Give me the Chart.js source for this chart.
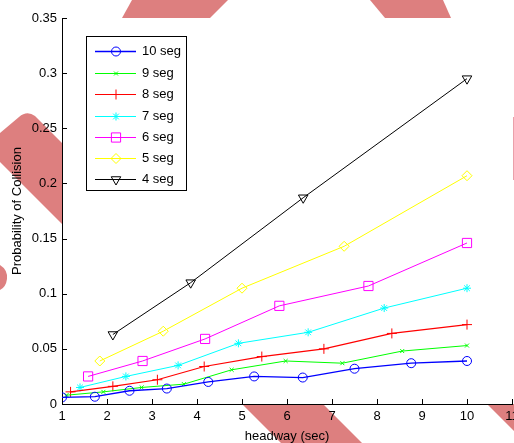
<!DOCTYPE html>
<html>
<head>
<meta charset="utf-8">
<script src="https://cdn.jsdelivr.net/npm/chart.js@4.4.1/dist/chart.umd.min.js"></script>
<style>
  html, body { margin: 0; padding: 0; background: #fff; overflow: hidden; }
  #wrap { width: 514px; height: 443px; overflow: hidden; position: relative; }
  canvas { display: block; }
</style>
</head>
<body>
<div id="wrap"><canvas id="c" width="560" height="470"></canvas></div>
<script>
// ---- data ----
const seriesLabels = ['10 seg', '9 seg', '8 seg', '7 seg', '6 seg', '5 seg', '4 seg'];

const seg10X = [1, 1.73, 2.5, 3.33, 4.25, 5.27, 6.35, 7.5, 8.76, 10];
const seg10Y = [0.006, 0.0066, 0.012, 0.014, 0.020, 0.025, 0.024, 0.032, 0.037, 0.039];

const seg9X = [1.1, 1.92, 2.77, 3.71, 4.77, 5.97, 7.23, 8.56, 10];
const seg9Y = [0.008, 0.011, 0.015, 0.018, 0.031, 0.039, 0.037, 0.048, 0.053];

const seg8X = [1.19, 2.13, 3.12, 4.16, 5.44, 6.82, 8.33, 10];
const seg8Y = [0.011, 0.016, 0.022, 0.034, 0.043, 0.050, 0.064, 0.072];

const seg7X = [1.4, 2.42, 3.58, 4.92, 6.47, 8.16, 10];
const seg7Y = [0.015, 0.025, 0.035, 0.055, 0.065, 0.087, 0.105];

const seg6X = [1.58, 2.79, 4.18, 5.83, 7.81, 10];
const seg6Y = [0.025, 0.039, 0.059, 0.089, 0.107, 0.146];

const seg5X = [1.84, 3.25, 5.0, 7.27, 10];
const seg5Y = [0.039, 0.066, 0.105, 0.143, 0.207];

const seg4X = [2.13, 3.86, 6.36, 10];
const seg4Y = [0.063, 0.110, 0.187, 0.295];

const xTickLabels = ['1', '2', '3', '4', '5', '6', '7', '8', '9', '10', '11'];
const yTickLabels = ['0', '0.05', '0.1', '0.15', '0.2', '0.25', '0.3', '0.35'];
const xTickMin = 1, xTickMax = 11, xTickStep = 1;
const yTickMin = 0, yTickMax = 0.35, yTickStep = 0.05;

const xTitle = 'headway (sec)';
const yTitle = 'Probability of Collision';

// ---- styling ----
const FONT = '"Liberation Sans", Arial, Helvetica, sans-serif';
const styles = [
  { color: '#0000ff', pointStyle: 'circle',   radius: 4.5, rotation: 0,   width: 1.3 },
  { color: '#00ff00', pointStyle: 'crossRot', radius: 2.8, rotation: 0,   width: 1 },
  { color: '#ff0000', pointStyle: 'cross',    radius: 5,   rotation: 0,   width: 1.2 },
  { color: '#00ffff', pointStyle: 'star',     radius: 4,   rotation: 0,   width: 1 },
  { color: '#ff00ff', pointStyle: 'rect',     radius: 6.5, rotation: 0,   width: 1 },
  { color: '#ffff00', pointStyle: 'rectRot',  radius: 5,   rotation: 0,   width: 1 },
  { color: '#000000', pointStyle: 'triangle', radius: 5.5, rotation: 180, width: 1 }
];
const xs = [seg10X, seg9X, seg8X, seg7X, seg6X, seg5X, seg4X];
const ys = [seg10Y, seg9Y, seg8Y, seg7Y, seg6Y, seg5Y, seg4Y];

const datasets = seriesLabels.map((lab, i) => ({
  label: lab,
  data: xs[i].map((x, j) => ({ x: x, y: ys[i][j] })),
  borderColor: styles[i].color,
  borderWidth: styles[i].width,
  backgroundColor: 'rgba(0,0,0,0)',
  pointStyle: styles[i].pointStyle,
  pointRadius: styles[i].radius,
  pointRotation: styles[i].rotation,
  pointBorderColor: styles[i].color,
  pointBackgroundColor: 'rgba(0,0,0,0)',
  pointBorderWidth: 1,
  tension: 0,
  fill: false
}));

// background watermark shapes outside the axes + white axes background
const bgPlugin = {
  id: 'bg',
  beforeDraw(chart) {
    const ctx = chart.ctx, a = chart.chartArea;
    ctx.save();
    ctx.fillStyle = '#ffffff';
    ctx.fillRect(0, 0, chart.width, chart.height);
    ctx.fillStyle = 'rgb(221,127,127)';
    const polys = [
      [[132,0],[228,0],[210,18],[122,18]],
      [[370,0],[443,0],[451,18],[385,18]],
      [[242,404],[323,404],[362,443],[281,443]],
      [[487,404],[540,404],[540,443],[526,443]]
    ];
    polys.forEach(p => {
      ctx.beginPath();
      ctx.moveTo(p[0][0], p[0][1]);
      for (let k = 1; k < p.length; k++) ctx.lineTo(p[k][0], p[k][1]);
      ctx.closePath(); ctx.fill();
    });
    // left band with rounded end
    ctx.beginPath();
    ctx.moveTo(0, 133);
    ctx.lineTo(19, 117);
    ctx.quadraticCurveTo(27, 110, 35, 116);
    ctx.lineTo(70, 151);
    ctx.lineTo(70, 232);
    ctx.lineTo(0, 162);
    ctx.closePath(); ctx.fill();
    // small rounded blob lower left
    ctx.beginPath();
    ctx.moveTo(0, 265);
    ctx.quadraticCurveTo(8, 270, 7, 279);
    ctx.quadraticCurveTo(6, 287, 0, 290);
    ctx.closePath(); ctx.fill();
    // thin line at right edge
    ctx.strokeStyle = 'rgb(235,160,170)';
    ctx.lineWidth = 1;
    ctx.beginPath(); ctx.moveTo(513.5, 117); ctx.lineTo(513.5, 180); ctx.stroke();
    // axes background
    ctx.fillStyle = '#ffffff';
    ctx.fillRect(a.left, a.top, a.right - a.left, a.bottom - a.top);
    ctx.restore();
  }
};

// inward tick marks (MATLAB style)
const tickPlugin = {
  id: 'inTicks',
  afterDraw(chart) {
    const ctx = chart.ctx, a = chart.chartArea;
    const sx = chart.scales.x, sy = chart.scales.y;
    ctx.save();
    ctx.strokeStyle = '#000'; ctx.lineWidth = 1;
    ctx.beginPath();
    sx.ticks.forEach(t => {
      const px = Math.round(sx.getPixelForValue(t.value)) + 0.5;
      ctx.moveTo(px, a.bottom); ctx.lineTo(px, a.bottom - 5);
    });
    sy.ticks.forEach(t => {
      const py = Math.round(sy.getPixelForValue(t.value)) + 0.5;
      ctx.moveTo(a.left, py); ctx.lineTo(a.left + 5, py);
    });
    ctx.stroke();
    ctx.restore();
  }
};

// boxed legend inside the axes
const legendPlugin = {
  id: 'boxLegend',
  afterDraw(chart) {
    const ctx = chart.ctx;
    ctx.save();
    ctx.fillStyle = '#fff';
    ctx.fillRect(86, 36, 101, 155);
    ctx.strokeStyle = '#000'; ctx.lineWidth = 1;
    ctx.strokeRect(86.5, 36.5, 100, 154);
    const rows = [51, 73, 94, 116, 137, 158, 179];
    chart.data.datasets.forEach((ds, i) => {
      const y = rows[i] + 0.5;
      ctx.strokeStyle = ds.borderColor; ctx.lineWidth = ds.borderWidth;
      ctx.beginPath(); ctx.moveTo(95, y); ctx.lineTo(136, y); ctx.stroke();
      ctx.strokeStyle = ds.pointBorderColor; ctx.fillStyle = 'rgba(0,0,0,0)'; ctx.lineWidth = 1;
      if (Chart.helpers && Chart.helpers.drawPoint) {
        Chart.helpers.drawPoint(ctx, { pointStyle: ds.pointStyle, radius: ds.pointRadius, rotation: ds.pointRotation, borderWidth: 1 }, 116, y);
      }
      ctx.fillStyle = '#000';
      ctx.font = '13px ' + FONT;
      ctx.textBaseline = 'middle'; ctx.textAlign = 'left';
      ctx.fillText(ds.label, 142, y);
    });
    ctx.restore();
  }
};

new Chart(document.getElementById('c'), {
  type: 'line',
  data: { datasets: datasets },
  plugins: [bgPlugin, tickPlugin, legendPlugin],
  options: {
    responsive: false,
    animation: false,
    devicePixelRatio: 1,
    events: [],
    layout: { padding: { left: 0, top: 18, right: 48, bottom: 0 } },
    plugins: { legend: { display: false }, tooltip: { enabled: false }, title: { display: false } },
    scales: {
      x: {
        type: 'linear', min: xTickMin, max: xTickMax,
        grid: { display: false, drawTicks: false },
        border: { display: true, color: '#000', width: 1 },
        ticks: {
          stepSize: xTickStep, padding: 5, color: '#000', font: { family: FONT, size: 13 }, maxRotation: 0,
          callback: (v, i) => xTickLabels[i] !== undefined ? xTickLabels[i] : String(v)
        },
        title: { display: true, text: xTitle, color: '#000', font: { family: FONT, size: 13 }, padding: { top: 0, bottom: 26 } },
        afterFit(s) { s.height = 66; }
      },
      y: {
        type: 'linear', min: yTickMin, max: yTickMax,
        grid: { display: false, drawTicks: false },
        border: { display: true, color: '#000', width: 1 },
        ticks: {
          stepSize: yTickStep, padding: 5, color: '#000', font: { family: FONT, size: 13 },
          callback: (v, i) => yTickLabels[i] !== undefined ? yTickLabels[i] : String(v)
        },
        title: { display: true, text: yTitle, color: '#000', font: { family: FONT, size: 13 }, padding: { top: 10, bottom: 0 } },
        afterFit(s) { s.width = 62; }
      }
    }
  }
});
</script>
</body>
</html>
